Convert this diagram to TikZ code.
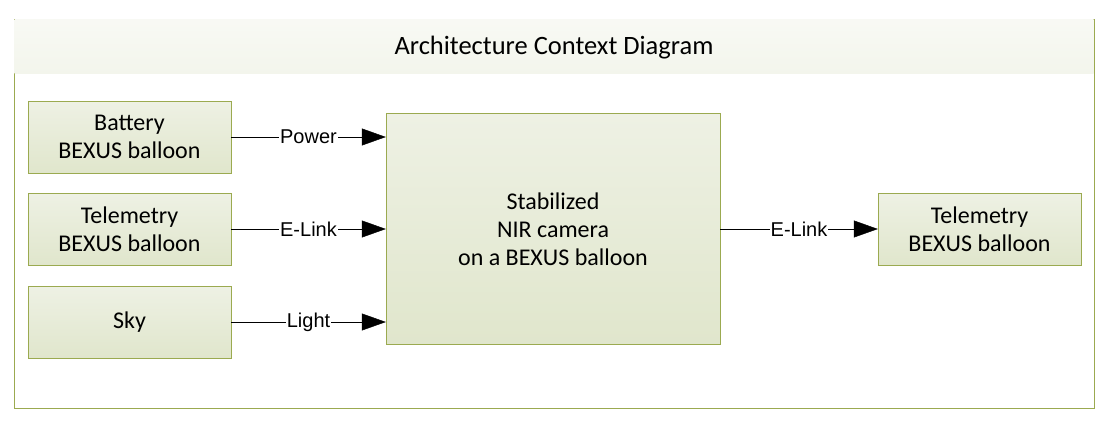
\documentclass[tikz,border=0pt]{standalone}
\usepackage{fontspec}
\setmainfont{Carlito}
\newfontfamily\arialfont{Liberation Sans}
\usepackage{tikz}
\usetikzlibrary{arrows.meta, calc, positioning}

\definecolor{frameolive}{RGB}{155,170,80}
\definecolor{boxtop}{RGB}{238,241,228}
\definecolor{boxbottom}{RGB}{224,230,204}

\tikzset{
	block/.style={draw=frameolive, top color=boxtop, bottom color=boxbottom,
		minimum width=203pt, minimum height=72pt, align=center,
		font=\fontsize{24}{28}\selectfont, inner sep=0pt},
	flow/.style={-{Triangle[length=24pt,width=17pt]}, black},
	flowlabel/.style={fill=white, inner sep=1pt, font=\arialfont\fontsize{20}{22}\selectfont}
}

\begin{document}
\begin{tikzpicture}[x=1pt,y=-1pt]
						\useasboundingbox (0,0) rectangle (1110,434);

						% frame and title band
						\draw[frameolive, fill=white] (14,19) rectangle (1094,408);
						\shade[top color=white!60!boxtop, bottom color=boxtop!70!white] (14.5,19.5) rectangle (1093.5,73);
						\node (title) at (554,48) {\fontsize{26.5}{30}\selectfont Architecture Context Diagram};

						\node[block] (battery) at (129.5,137) {Battery\\BEXUS balloon};
						\node[block] (telemin) at (129.5,229) {Telemetry\\BEXUS balloon};
						\node[block] (sky) at (129.5,322) {Sky};

						\node[block, minimum width=334pt, minimum height=231pt] (camera) at (553,229) {Stabilized\\NIR camera\\on a BEXUS balloon};

						\node[block] (telemout) at (979.5,229) {Telemetry\\BEXUS balloon};

						\draw[flow] (battery.east) -- (battery.east -| camera.west) node[flowlabel, midway] {Power};
						\draw[flow] (telemin.east) -- (telemin.east -| camera.west) node[flowlabel, midway] {E-Link};
						\draw[flow] (sky.east) -- (sky.east -| camera.west) node[flowlabel, midway] {Light};

						\draw[flow] (camera.east |- telemout.west) -- (telemout.west) node[flowlabel, midway] {E-Link};
					\end{tikzpicture}
\end{document}
